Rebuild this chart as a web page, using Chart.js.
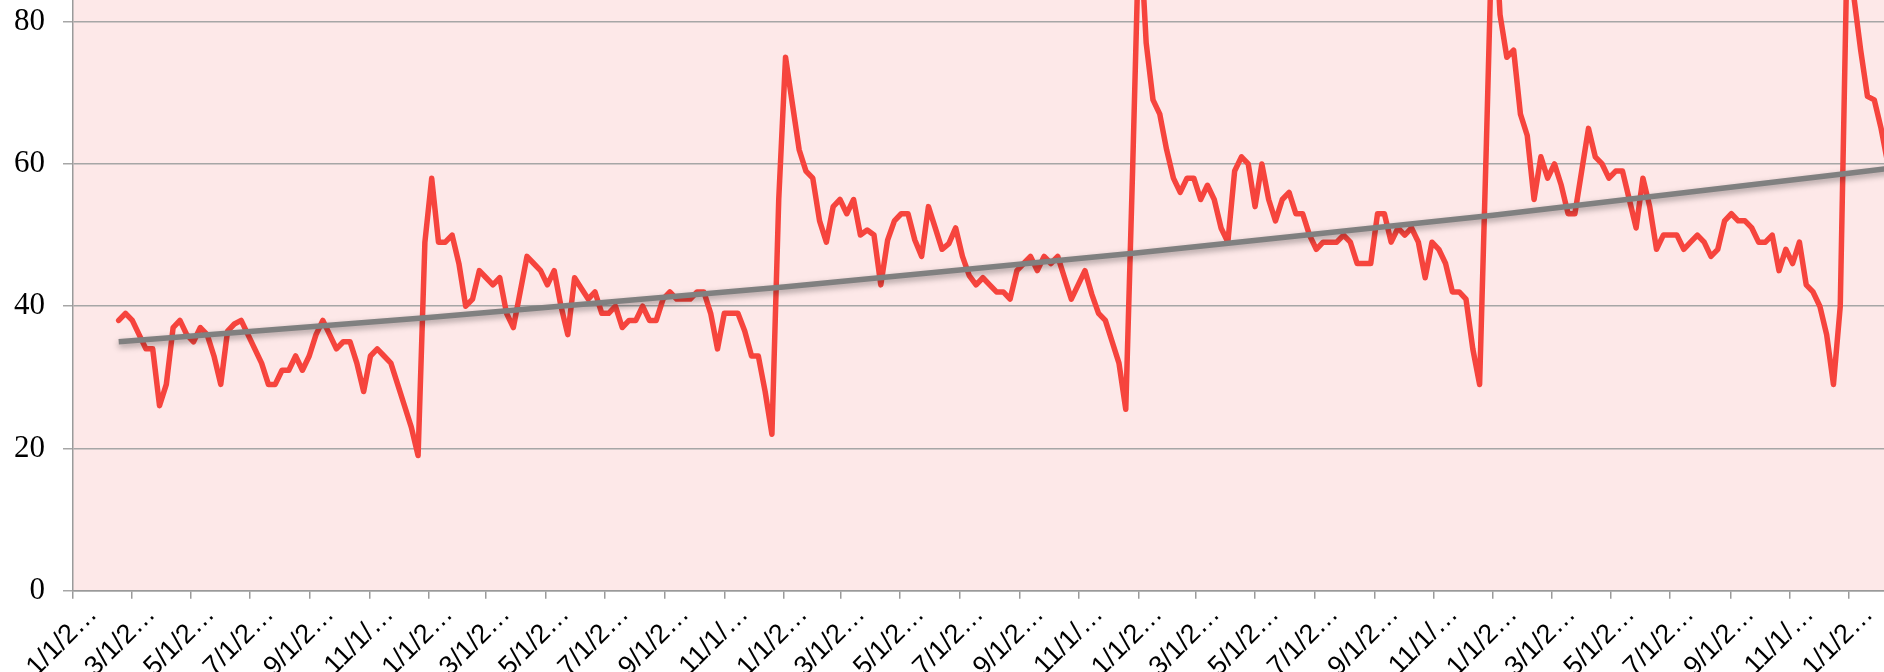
<!DOCTYPE html>
<html>
<head>
<meta charset="utf-8">
<script src="https://cdn.jsdelivr.net/npm/chart.js@4.4.0/dist/chart.umd.min.js"></script>
<style>
    html, body { margin: 0; padding: 0; background: #fff; overflow: hidden; }
    #wrap { width: 1884px; height: 672px; }
</style>
</head>
<body>
<div id="wrap"><canvas id="trendChart" width="1884" height="672"></canvas></div>
<script>
// Weekly series, first week 2/17/2004
const firstWeek = '2/17/2004';

const values2004 = [38, 39, 38, 36, 34, 34, 26, 29, 37, 38, 36, 35, 37, 36, 33, 29,
    36.5, 37.5, 38, 36, 34, 32, 29, 29, 31, 31, 33, 31, 33, 36, 38, 36, 34, 35, 35, 32,
    28, 33, 34, 33, 32, 29, 26, 23, 19, 49];
const values2005 = [58, 49, 49, 50, 46, 40, 41, 45, 44, 43, 44, 39, 37, 42, 47, 46, 45,
    43, 45, 40, 36, 44, 42.5, 41, 42, 39, 39, 40, 37, 38, 38, 40, 38, 38, 41, 42, 41, 41,
    41, 42, 42, 39, 34, 39, 39, 39, 36.5, 33, 33, 28, 22, 55];
const values2006 = [75, 68.5, 62, 59, 58, 52, 49, 54, 55, 53, 55, 50, 50.7, 50, 43, 49.3,
    52, 53, 53, 49.3, 47, 54, 51, 48, 48.8, 51, 47, 44.3, 43, 44, 43, 42, 42, 41, 45, 46,
    47, 45, 47, 46, 47, 44, 41, 43, 45, 41.7, 39, 38, 35, 32, 25.5, 59];
const values2007 = [95, 77, 69, 67, 62, 58, 56, 58, 58, 55, 57, 55, 51, 49, 59, 61, 60,
    54, 60, 55, 52, 55, 56, 53, 53, 50, 48, 49, 49, 49, 50, 49, 46, 46, 46, 53, 53, 49,
    51, 50, 51, 49, 44, 49, 48, 46, 42, 42, 41, 34, 29, 63];
const values2008 = [99, 81, 75, 76, 67, 64, 55, 61, 58, 60, 57, 53, 53, 59, 65, 61, 60,
    58, 59, 59, 55, 51, 58, 54, 48, 50, 50, 50, 48, 49, 50, 49, 47, 48, 52, 53, 52, 52,
    51, 49, 49, 50, 45, 48, 46, 49, 43, 42, 40, 36, 29, 40, 90];
const values2009 = [83.5, 76, 69.5, 69, 65, 60];

// Trend line read at a few dates
const trendDates = ['2/17/2004', '1/1/2005', '1/1/2006', '1/1/2007', '1/1/2008', '1/1/2009', '2/13/2009'];
const trendValues = [35.0, 38.4, 42.7, 47.5, 52.8, 58.7, 59.4];

// Axis ticks
const tickDates = [
    '1/1/2004', '3/1/2004', '5/1/2004', '7/1/2004', '9/1/2004', '11/1/2004',
    '1/1/2005', '3/1/2005', '5/1/2005', '7/1/2005', '9/1/2005', '11/1/2005',
    '1/1/2006', '3/1/2006', '5/1/2006', '7/1/2006', '9/1/2006', '11/1/2006',
    '1/1/2007', '3/1/2007', '5/1/2007', '7/1/2007', '9/1/2007', '11/1/2007',
    '1/1/2008', '3/1/2008', '5/1/2008', '7/1/2008', '9/1/2008', '11/1/2008',
    '1/1/2009'
];
const yTicks = [0, 20, 40, 60, 80];

const origin = Date.UTC(2004, 0, 1);
function dayOf(s) {
    const [m, d, y] = s.split('/').map(Number);
    return (Date.UTC(y, m - 1, d) - origin) / 86400000;
}

const weekly = [].concat(values2004, values2005, values2006, values2007, values2008, values2009);
const start = dayOf(firstWeek);
const weeklyPoints = weekly.map((v, i) => ({ x: start + 7 * i, y: v }));
const trendPoints = trendDates.map((d, i) => ({ x: dayOf(d), y: trendValues[i] }));
const tickValues = tickDates.map(dayOf);

const plotBackground = {
    id: 'plotBackground',
    beforeDraw(chart) {
        const { ctx, chartArea: a } = chart;
        ctx.save();
        ctx.fillStyle = '#fde8e8';
        ctx.fillRect(a.left, a.top, a.right - a.left, a.bottom - a.top);
        ctx.restore();
    }
};

// soft shadow under the trend line
const trendShadow = {
    id: 'trendShadow',
    beforeDatasetDraw(chart, args) {
        if (args.index !== 0) return;
        const ctx = chart.ctx;
        ctx.save();
        ctx.shadowColor = 'rgba(0,0,0,0.35)';
        ctx.shadowBlur = 6;
        ctx.shadowOffsetY = 3;
    },
    afterDatasetDraw(chart, args) {
        if (args.index === 0) chart.ctx.restore();
    }
};

new Chart(document.getElementById('trendChart'), {
    type: 'line',
    data: {
        datasets: [{
            label: 'Trend',
            data: trendPoints,
            borderColor: '#808080',
            borderWidth: 5.5,
            pointRadius: 0,
            tension: 0,
            order: 0
        }, {
            label: 'Weekly',
            data: weeklyPoints,
            borderColor: '#f6443d',
            borderWidth: 5.5,
            borderJoinStyle: 'round',
            borderCapStyle: 'round',
            pointRadius: 0,
            tension: 0,
            order: 1
        }]
    },
    options: {
        responsive: false,
        devicePixelRatio: 1,
        animation: false,
        layout: { padding: 0 },
        plugins: {
            legend: { display: false },
            tooltip: { enabled: false }
        },
        scales: {
            x: {
                type: 'linear',
                min: 0,
                max: 1863,
                afterBuildTicks: scale => {
                    scale.ticks = tickValues.map(v => ({ value: v }));
                },
                afterFit: scale => {
                    scale.height = 81.3;
                    scale.paddingLeft = 0;
                    scale.paddingRight = 0;
                },
                ticks: {
                    autoSkip: false,
                    minRotation: 45,
                    maxRotation: 45,
                    padding: 0,
                    labelOffset: 20,
                    color: '#000',
                    font: { family: 'Liberation Sans', size: 27 },
                    callback: (value, index) => tickDates[index].slice(0, 5) + '\u2026'
                },
                grid: {
                    drawOnChartArea: false,
                    tickLength: 8,
                    color: '#9a9a9a',
                    lineWidth: 1.5
                },
                border: { color: '#9a9a9a', width: 1.5 }
            },
            y: {
                min: 0,
                max: 83.05,
                afterBuildTicks: scale => {
                    scale.ticks = yTicks.map(v => ({ value: v }));
                },
                afterFit: scale => {
                    scale.width = 73;
                    scale.paddingTop = 0;
                    scale.paddingBottom = 0;
                },
                ticks: {
                    padding: 18,
                    color: '#000',
                    font: { family: 'Liberation Serif', size: 31 }
                },
                grid: {
                    color: '#a6a6a6',
                    lineWidth: 1.5,
                    tickLength: 10
                },
                border: { color: '#9a9a9a', width: 1.5 }
            }
        }
    },
    plugins: [plotBackground, trendShadow]
});
</script>
</body>
</html>
